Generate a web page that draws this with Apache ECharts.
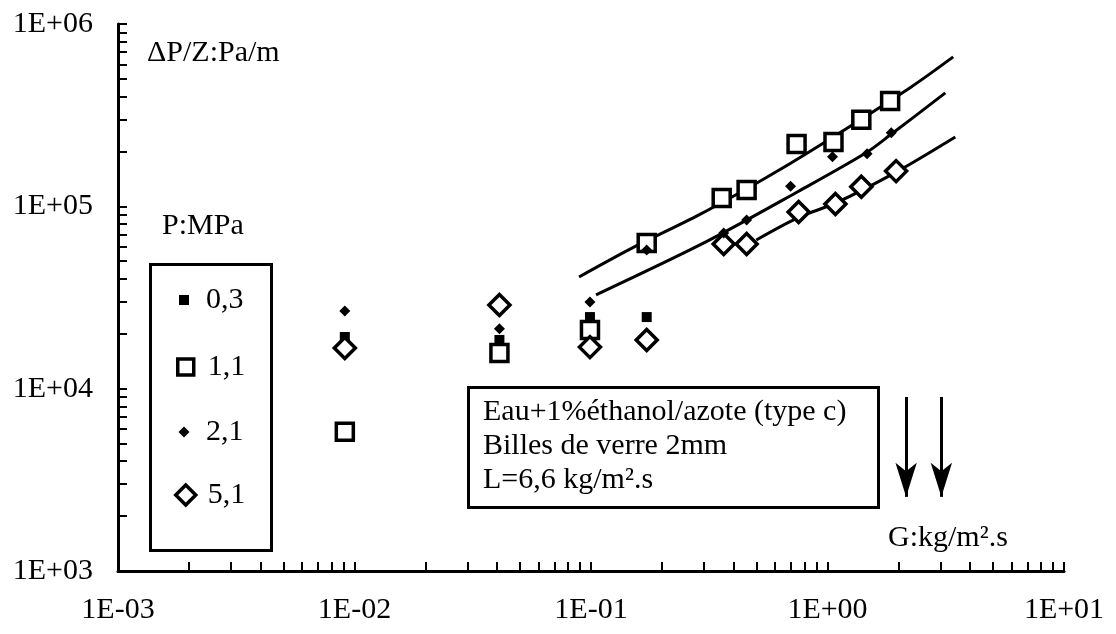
<!DOCTYPE html>
<html>
<head>
<meta charset="utf-8">
<script src="https://cdn.jsdelivr.net/npm/echarts@6/dist/echarts.min.js"></script>
<style>
html,body{margin:0;padding:0;background:#fff;}
#chart{width:1116px;height:634px;}
</style>
</head>
<body>
<div id="chart"></div>
<script>
// ---- data (G : kg/m2.s, dP/Z : Pa/m) ----
const G_03  = [0.0091, 0.041, 0.099, 0.172];
const DP_03 = [19200, 18500, 24700, 24700];

const G_11  = [0.0091, 0.041, 0.099, 0.172, 0.357, 0.455, 0.74, 1.06, 1.39, 1.84];
const DP_11 = [5800, 15700, 21000, 63000, 111000, 123000, 220000, 225000, 298000, 378000];

const G_21  = [0.0091, 0.041, 0.099, 0.172, 0.364, 0.455, 0.698, 1.05, 1.47, 1.86];
const DP_21 = [26700, 21300, 29900, 57700, 71500, 84200, 129000, 187000, 194000, 253000];

const G_51  = [0.0091, 0.041, 0.099, 0.172, 0.364, 0.455, 0.755, 1.08, 1.39, 1.95];
const DP_51 = [16700, 28800, 16900, 18500, 62200, 62200, 93200, 103000, 128000, 156000];

// fitted curves
const FIT_G_11  = [0.089, 0.149, 0.286, 0.547, 0.89, 2.26, 3.4];
const FIT_DP_11 = [41000, 59000, 89700, 143000, 209000, 452000, 660000];
const FIT_G_21  = [0.105, 0.306, 0.755, 1.45, 1.84, 3.15];
const FIT_DP_21 = [32700, 63800, 121000, 196000, 246000, 419000];
const FIT_G_51  = [0.50, 0.755, 1.08, 1.95, 3.47];
const FIT_DP_51 = [65400, 87000, 104000, 154000, 240000];

// arrows (G positions) and their vertical span (tail, tip)
const ARROW_G = [2.15, 3.03];
const ARROW_DP = [9000, 2550];

// axis ticks
const X_TICKS = [0.001, 0.01, 0.1, 1, 10];
const X_TICK_LABELS = ['1E-03', '1E-02', '1E-01', '1E+00', '1E+01'];
const Y_TICKS = [1000, 10000, 100000, 1000000];
const Y_TICK_LABELS = ['1E+03', '1E+04', '1E+05', '1E+06'];
const MINOR_MULT = [1, 2, 3, 4, 5, 6, 7, 8, 9];

const SERIES_NAMES = ['0,3', '1,1', '2,1', '5,1'];

function pairs(xs, ys) { return xs.map((x, i) => [x, ys[i]]); }
function minorTicks(decades) {
  const out = [];
  for (let d = 0; d < decades.length - 1; d++) {
    MINOR_MULT.forEach(m => out.push(+(decades[d] * m).toPrecision(6)));
  }
  out.push(decades[decades.length - 1]);
  return out;
}
function labelFor(ticks, labels) {
  return function (v) {
    let best = 0, bd = Infinity;
    ticks.forEach((t, i) => {
      const d = Math.abs(Math.log10(t) - Math.log10(v));
      if (d < bd) { bd = d; best = i; }
    });
    return labels[best];
  };
}

const FONT = '"Liberation Serif", "Times New Roman", serif';
const FS = 30;
const BLACK = '#000';

const openStyle = { color: '#fff', borderColor: BLACK, borderWidth: 3.5, opacity: 1 };
const fillStyle = { color: BLACK, opacity: 1 };

const chart = echarts.init(document.getElementById('chart'), null, { renderer: 'canvas' });

const fitLine = (name, xs, ys, extra) => Object.assign({
  name: name, type: 'line', data: pairs(xs, ys), showSymbol: false, symbol: 'none',
  smooth: 0.3, lineStyle: { color: BLACK, width: 3 }, z: 2, silent: true
}, extra || {});

// legend helper: one legend per entry for individual icon sizes
const legendCenterX = 184, textX = 206;
const legendRows = [
  { name: SERIES_NAMES[0], icon: 'rect', w: 10, h: 10, style: fillStyle, y: 300 },
  { name: SERIES_NAMES[1], icon: 'rect', w: 16, h: 16, style: openStyle, y: 367 },
  { name: SERIES_NAMES[2], icon: 'diamond', w: 11, h: 11, style: fillStyle, y: 432 },
  { name: SERIES_NAMES[3], icon: 'diamond', w: 20, h: 20, style: openStyle, y: 495 }
];
const legends = legendRows.map(r => {
  const left = legendCenterX - r.w / 2;
  const pad = textX - (left + r.w + 5);
  return {
    left: left, top: r.y - 15, orient: 'vertical', padding: 0,
    itemWidth: r.w, itemHeight: r.h, selectedMode: false,
    data: [{ name: r.name, icon: r.icon, itemStyle: r.style }],
    textStyle: { fontFamily: FONT, fontSize: FS, color: BLACK, lineHeight: 30, padding: [0, 0, 0, pad] }
  };
});

const option = {
  animation: false,
  backgroundColor: '#fff',
  grid: { left: 118, right: 52, top: 24, bottom: 63, containLabel: false },
  legend: legends,
  xAxis: {
    type: 'log', logBase: 10, min: 0.001, max: 10,
    axisLine: { show: true, lineStyle: { color: BLACK, width: 3 } },
    axisTick: { show: true, inside: true, length: 9, lineStyle: { color: BLACK, width: 2 }, customValues: minorTicks(X_TICKS) },
    minorTick: { show: false },
    axisLabel: { customValues: X_TICKS, formatter: labelFor(X_TICKS, X_TICK_LABELS), fontFamily: FONT, fontSize: FS, color: BLACK, margin: 24 },
    splitLine: { show: false }
  },
  yAxis: {
    type: 'log', logBase: 10, min: 1000, max: 1000000,
    axisLine: { show: true, lineStyle: { color: BLACK, width: 3 } },
    axisTick: { show: true, inside: true, length: 9, lineStyle: { color: BLACK, width: 2 }, customValues: minorTicks(Y_TICKS) },
    minorTick: { show: false },
    axisLabel: { customValues: Y_TICKS, formatter: labelFor(Y_TICKS, Y_TICK_LABELS), fontFamily: FONT, fontSize: FS, color: BLACK, margin: 25 },
    splitLine: { show: false }
  },
  series: [
    fitLine('fit 1,1', FIT_G_11, FIT_DP_11),
    fitLine('fit 2,1', FIT_G_21, FIT_DP_21),
    fitLine('fit 5,1', FIT_G_51, FIT_DP_51, {
      markLine: {
        silent: true, animation: false,
        symbol: ['none', 'arrow'], symbolSize: 26,
        label: { show: false },
        lineStyle: { color: BLACK, width: 3, type: 'solid', opacity: 1 },
        itemStyle: { color: BLACK },
        emphasis: { disabled: true },
        data: ARROW_G.map(g => [
          { coord: [g, ARROW_DP[0]] },
          { coord: [g, ARROW_DP[1]], symbolSize: [16, 34] }
        ])
      }
    }),
    { name: SERIES_NAMES[0], type: 'scatter', data: pairs(G_03, DP_03), symbol: 'rect', symbolSize: 10, itemStyle: fillStyle, z: 3 },
    { name: SERIES_NAMES[1], type: 'scatter', data: pairs(G_11, DP_11), symbol: 'rect', symbolSize: 17, itemStyle: openStyle, z: 4 },
    { name: SERIES_NAMES[2], type: 'scatter', data: pairs(G_21, DP_21), symbol: 'diamond', symbolSize: 11, itemStyle: fillStyle, z: 5 },
    { name: SERIES_NAMES[3], type: 'scatter', data: pairs(G_51, DP_51), symbol: 'diamond', symbolSize: 21, itemStyle: openStyle, z: 4 }
  ],
  graphic: [
    { type: 'text', left: 147, top: 38, style: { text: 'ΔP/Z:Pa/m', font: FS + 'px ' + FONT, fill: BLACK } },
    { type: 'text', left: 162, top: 211, style: { text: 'P:MPa', font: FS + 'px ' + FONT, fill: BLACK } },
    { type: 'rect', left: 148, top: 262, shape: { width: 121, height: 286 }, style: { fill: 'none', stroke: BLACK, lineWidth: 3 } },
    { type: 'rect', left: 467, top: 386, shape: { width: 410, height: 120 }, style: { fill: '#fff', stroke: BLACK, lineWidth: 3 }, z: 10 },
    { type: 'text', left: 483, top: 395, z: 11, style: { text: 'Eau+1%éthanol/azote (type c)\nBilles de verre 2mm\nL=6,6 kg/m².s', font: FS + 'px ' + FONT, lineHeight: 34, fill: BLACK } },
    { type: 'text', left: 888, top: 523, style: { text: 'G:kg/m².s', font: FS + 'px ' + FONT, fill: BLACK } }
  ]
};
chart.setOption(option);
</script>
</body>
</html>
